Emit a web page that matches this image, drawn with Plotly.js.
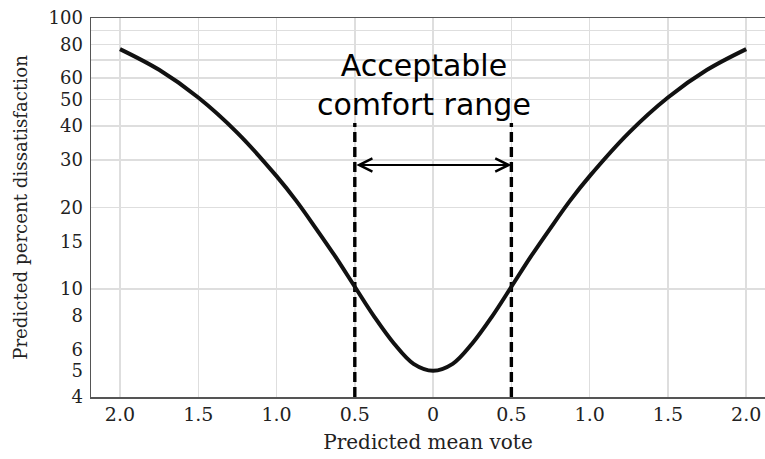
<!DOCTYPE html>
<html>
<head>
<meta charset="utf-8">
<script src="https://cdn.plot.ly/plotly-3.0.1.min.js"></script>
<style>
  html, body { margin: 0; padding: 0; background: #fff; }
  #chart { width: 765px; height: 459px; }
</style>
</head>
<body>
<div id="chart"></div>
<script>
// Predicted mean vote (PMV) and predicted percent dissatisfied (PPD)
const pmv = [-2.0, -1.75, -1.5, -1.25, -1.0, -0.875, -0.75, -0.625, -0.5, -0.375, -0.25, -0.125, 0,
             0.125, 0.25, 0.375, 0.5, 0.625, 0.75, 0.875, 1.0, 1.25, 1.5, 1.75, 2.0];
const ppd = [76.8, 64.4, 50.9, 37.7, 26.1, 21.2, 16.8, 13.2, 10.2, 7.9, 6.3, 5.3, 5.0,
             5.3, 6.3, 7.9, 10.2, 13.2, 16.8, 21.2, 26.1, 37.7, 50.9, 64.4, 76.8];

// Limits of the acceptable comfort range
const comfortLow = -0.5;
const comfortHigh = 0.5;
const comfortLineTop = 41;
const comfortArrowLevel = 28.7;

// Axis ticks
const xTickVals = [-2, -1.5, -1, -0.5, 0, 0.5, 1, 1.5, 2];
const xTickText = ['2.0', '1.5', '1.0', '0.5', '0', '0.5', '1.0', '1.5', '2.0'];
const yTickVals = [4, 5, 6, 8, 10, 15, 20, 30, 40, 50, 60, 80, 100];
const yGridVals = [10, 20, 30, 40, 50, 60, 70, 80, 90];

const serif = 'DejaVu Serif, serif';
const gridColor = '#dedede';

const traces = [
  {
    x: [comfortLow, comfortLow], y: [yTickVals[0], comfortLineTop],
    mode: 'lines', line: { color: '#000', width: 3.4, dash: '10px,5px' },
    hoverinfo: 'skip', showlegend: false
  },
  {
    x: [comfortHigh, comfortHigh], y: [yTickVals[0], comfortLineTop],
    mode: 'lines', line: { color: '#000', width: 3.4, dash: '10px,5px' },
    hoverinfo: 'skip', showlegend: false
  },
  {
    x: pmv, y: ppd,
    mode: 'lines', line: { color: '#111', width: 4, shape: 'spline', smoothing: 1 },
    showlegend: false
  }
];

const layout = {
  width: 765, height: 459,
  margin: { l: 91, r: 0, t: 18, b: 62 },
  paper_bgcolor: '#fff', plot_bgcolor: '#fff',
  showlegend: false,
  xaxis: {
    range: [-2.185, 2.12],
    tickmode: 'array', tickvals: xTickVals, ticktext: xTickText,
    ticks: '', showgrid: true, gridcolor: gridColor, gridwidth: 1.5,
    zeroline: false,
    showline: true, linecolor: '#555', linewidth: 1.5, mirror: true,
    tickfont: { family: serif, size: 19, color: '#222' },
    title: { text: 'Predicted mean vote', font: { family: serif, size: 20, color: '#222' }, standoff: 10 }
  },
  yaxis: {
    type: 'log',
    range: [Math.log10(4), 2],
    tickmode: 'array', tickvals: yTickVals, ticktext: yTickVals.map(String),
    ticks: '', showgrid: false, zeroline: false,
    showline: true, linecolor: '#555', linewidth: 1.5,
    ticklabelstandoff: 3,
    minor: { tickmode: 'array', tickvals: yGridVals, showgrid: true, gridcolor: gridColor, gridwidth: 1.5, ticks: '' },
    tickfont: { family: serif, size: 18, color: '#222' },
    title: { text: 'Predicted percent dissatisfaction', font: { family: serif, size: 18.2, color: '#222' }, standoff: 16 }
  },
  annotations: [
    {
      // double-headed arrow spanning the comfort range
      x: comfortHigh, y: Math.log10(comfortArrowLevel),
      ax: comfortLow, ay: Math.log10(comfortArrowLevel),
      xref: 'x', yref: 'y', axref: 'x', ayref: 'y',
      text: '', showarrow: true,
      arrowhead: 5, startarrowhead: 5, arrowside: 'end+start',
      arrowsize: 1.3, startarrowsize: 1.3, arrowwidth: 2, arrowcolor: '#000',
      standoff: 0, startstandoff: 0
    },
    {
      x: -0.06, y: 0.824, xref: 'x', yref: 'paper',
      xanchor: 'center', yanchor: 'middle',
      text: 'Acceptable<br>comfort range', showarrow: false,
      font: { family: 'DejaVu Sans, sans-serif', size: 30, color: '#000' }
    }
  ]
};

Plotly.newPlot('chart', traces, layout, { displayModeBar: false, staticPlot: true });
</script>
</body>
</html>
